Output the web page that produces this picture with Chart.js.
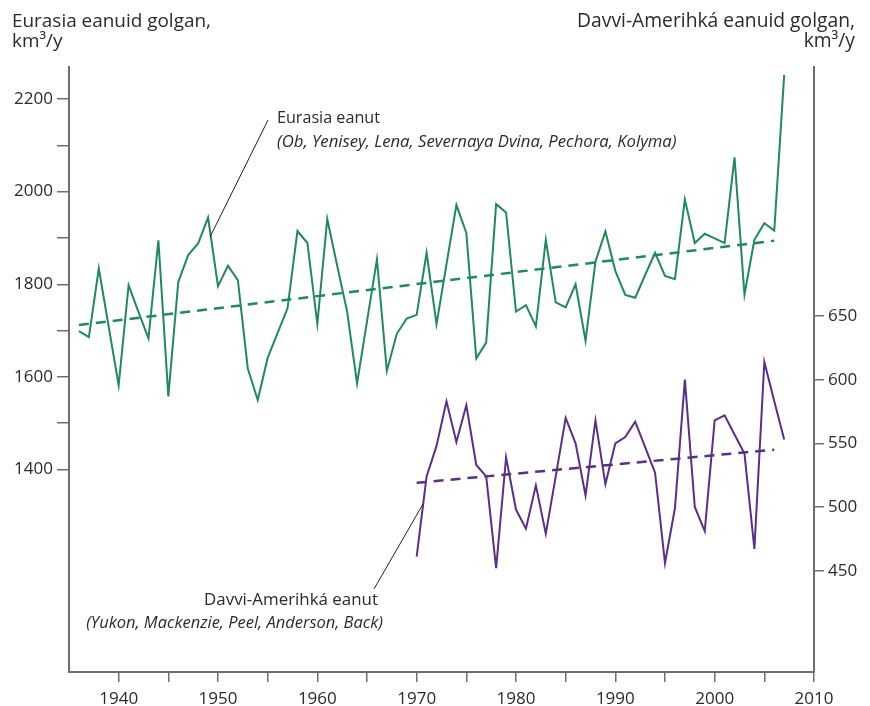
<!DOCTYPE html>
<html>
<head>
<meta charset="utf-8">
<script src="https://cdn.jsdelivr.net/npm/chart.js@4/dist/chart.umd.min.js"></script>
<style>
  body { margin: 0; background: #fff; }
  canvas { display: block; }
</style>
</head>
<body>
<canvas id="runoffChart" width="870" height="706"></canvas>
<script>
// Eurasia eanut, km3/y
const eurasiaYears = [1936,1937,1938,1939,1940,1941,1942,1943,1944,1945,1946,1947,1948,1949,1950,1951,1952,1953,1954,1955,1956,1957,1958,1959,1960,1961,1962,1963,1964,1965,1966,1967,1968,1969,1970,1971,1972,1973,1974,1975,1976,1977,1978,1979,1980,1981,1982,1983,1984,1985,1986,1987,1988,1989,1990,1991,1992,1993,1994,1995,1996,1997,1998,1999,2000,2001,2002,2003,2004,2005,2006,2007];
const eurasiaFlow = [1699,1686,1834,1708,1582,1798,1740,1683,1895,1558,1805,1863,1888,1944,1796,1840,1809,1618,1550,1641,1695,1748,1915,1889,1714,1941,1840,1741,1586,1720,1854,1613,1693,1726,1734,1868,1714,1843,1971,1911,1640,1674,1973,1955,1741,1755,1709,1896,1761,1750,1800,1678,1849,1914,1829,1777,1771,1820,1868,1818,1811,1983,1889,1909,1899,1889,2074,1778,1896,1932,1916,2252];
const eurasiaTrendYears = [1936, 2006];
const eurasiaTrend = [1712, 1894];

// Davvi-Amerihká eanut, km3/y
const naYears = [1970,1971,1972,1973,1974,1975,1976,1977,1978,1979,1980,1981,1982,1983,1984,1985,1986,1987,1988,1989,1990,1991,1992,1993,1994,1995,1996,1997,1998,1999,2000,2001,2002,2003,2004,2005,2006,2007];
const naFlow = [461,524,548,583,551,580,533,524,452,539,498,483,517,479,524,570,550,509,568,518,550,555,567,547,527,456,499,600,500,481,568,572,557,542,467,614,583,553];
const naTrendYears = [1970, 2006];
const naTrend = [519, 545];

const xTicks = [1940,1945,1950,1955,1960,1965,1970,1975,1980,1985,1990,1995,2000,2005,2010];
const leftTicks = [1400,1500,1600,1700,1800,1900,2000,2100,2200];
const rightTicks = [450,500,550,600,650];

const GREEN = '#1f8a5b';
const PURPLE = '#5b2e8a';
const AXIS = '#6e6e6e';
const TEXT = '#2b2b2b';
const FONT = "'Open Sans', sans-serif";

Chart.defaults.font.family = FONT;
Chart.defaults.color = TEXT;

const pts = (xs, ys) => xs.map((x, i) => ({ x: x, y: ys[i] }));

// tekstat ja čujuhussázut
function fitText(ctx, text, style, targetW) {
  ctx.font = style + ' 100px ' + FONT;
  const w = ctx.measureText(text).width;
  ctx.font = style + ' ' + (100 * targetW / w).toFixed(2) + 'px ' + FONT;
}

const notesPlugin = {
  id: 'notes',
  afterDraw(chart) {
    const ctx = chart.ctx;
    ctx.save();
    ctx.fillStyle = TEXT;
    ctx.textBaseline = 'alphabetic';

    // axis titles
    ctx.textAlign = 'left';
    fitText(ctx, 'Eurasia eanuid golgan,', 'normal', 199);
    ctx.fillText('Eurasia eanuid golgan,', 12, 27);
    ctx.fillText('km³/y', 12, 47);
    ctx.textAlign = 'right';
    fitText(ctx, 'Davvi-Amerihká eanuid golgan,', 'normal', 278);
    ctx.fillText('Davvi-Amerihká eanuid golgan,', 855, 27);
    ctx.fillText('km³/y', 855, 47);

    // leader lines
    ctx.strokeStyle = '#222';
    ctx.lineWidth = 1;
    ctx.beginPath();
    ctx.moveTo(210, 237);
    ctx.lineTo(268, 120);
    ctx.moveTo(423, 504);
    ctx.lineTo(374, 589);
    ctx.stroke();

    // Eurasia label
    ctx.textAlign = 'left';
    ctx.textBaseline = 'middle';
    fitText(ctx, 'Eurasia eanut', 'normal', 103);
    ctx.fillText('Eurasia eanut', 277, 118);
    fitText(ctx, '(Ob, Yenisey, Lena, Severnaya Dvina, Pechora, Kolyma)', 'italic', 400);
    ctx.fillText('(Ob, Yenisey, Lena, Severnaya Dvina, Pechora, Kolyma)', 277, 142);

    // Davvi-Amerihká label
    ctx.textAlign = 'right';
    fitText(ctx, 'Davvi-Amerihká eanut', 'normal', 174);
    ctx.fillText('Davvi-Amerihká eanut', 378, 600);
    fitText(ctx, '(Yukon, Mackenzie, Peel, Anderson, Back)', 'italic', 297);
    ctx.fillText('(Yukon, Mackenzie, Peel, Anderson, Back)', 383, 623);
    ctx.restore();
  }
};

const tickFont = { family: FONT, size: 17 };

new Chart(document.getElementById('runoffChart'), {
  type: 'line',
  data: {
    datasets: [
      {
        label: 'Eurasia eanut',
        data: pts(eurasiaYears, eurasiaFlow),
        borderColor: GREEN,
        borderWidth: 2,
        pointRadius: 0,
        tension: 0,
        yAxisID: 'y'
      },
      {
        label: 'Eurasia trend',
        data: pts(eurasiaTrendYears, eurasiaTrend),
        borderColor: GREEN,
        borderWidth: 2.5,
        borderDash: [10, 7],
        pointRadius: 0,
        yAxisID: 'y'
      },
      {
        label: 'Davvi-Amerihká eanut',
        data: pts(naYears, naFlow),
        borderColor: PURPLE,
        borderWidth: 2,
        pointRadius: 0,
        tension: 0,
        yAxisID: 'y2'
      },
      {
        label: 'Davvi-Amerihká trend',
        data: pts(naTrendYears, naTrend),
        borderColor: PURPLE,
        borderWidth: 2.5,
        borderDash: [10, 7],
        pointRadius: 0,
        yAxisID: 'y2'
      }
    ]
  },
  options: {
    responsive: false,
    animation: false,
    devicePixelRatio: 1,
    layout: { padding: { top: 67, left: 0, right: 0, bottom: 0 } },
    plugins: {
      legend: { display: false },
      tooltip: { enabled: false }
    },
    scales: {
      x: {
        type: 'linear',
        min: 1935,
        max: 2010,
        afterBuildTicks: s => { s.ticks = xTicks.map(v => ({ value: v })); },
        afterFit: s => { s.height = 34; },
        ticks: {
          autoSkip: false,
          maxRotation: 0,
          padding: 7,
          font: tickFont,
          color: TEXT,
          callback: v => (v % 10 === 0 ? String(v) : '')
        },
        grid: { drawOnChartArea: false, drawTicks: true, tickLength: 10, color: AXIS, lineWidth: 1.5 },
        border: { display: true, color: AXIS, width: 2 }
      },
      y: {
        type: 'linear',
        position: 'left',
        min: 963,
        max: 2269,
        afterBuildTicks: s => { s.ticks = leftTicks.map(v => ({ value: v })); },
        afterFit: s => { s.width = 69; },
        ticks: {
          padding: 4,
          font: tickFont,
          color: TEXT,
          callback: v => (v % 200 === 0 ? String(v) : '')
        },
        grid: { drawOnChartArea: false, drawTicks: true, tickLength: 12, color: AXIS, lineWidth: 1.5 },
        border: { display: true, color: AXIS, width: 2 }
      },
      y2: {
        type: 'linear',
        position: 'right',
        min: 370.4,
        max: 845.6,
        afterBuildTicks: s => { s.ticks = rightTicks.map(v => ({ value: v })); },
        afterFit: s => { s.width = 56; },
        ticks: {
          padding: 4,
          font: tickFont,
          color: TEXT,
          callback: v => String(v)
        },
        grid: { drawOnChartArea: false, drawTicks: true, tickLength: 10, color: AXIS, lineWidth: 1.5 },
        border: { display: true, color: AXIS, width: 2 }
      }
    }
  },
  plugins: [notesPlugin]
});
</script>
</body>
</html>
